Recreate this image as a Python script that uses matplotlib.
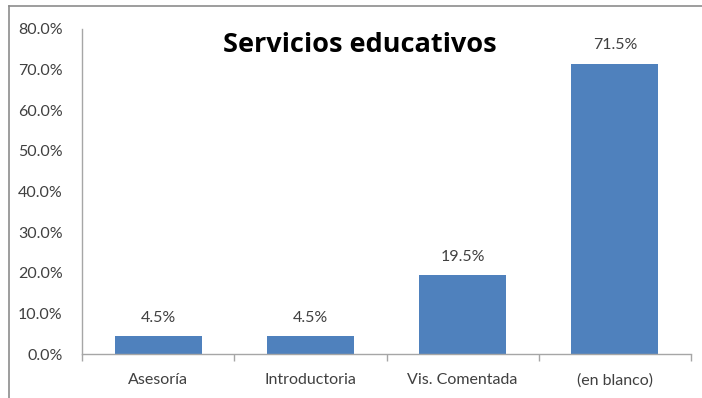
import matplotlib
matplotlib.use("Agg")
import matplotlib.pyplot as plt
from matplotlib.lines import Line2D
from matplotlib.ticker import FuncFormatter, MultipleLocator

categories = ["Asesoría", "Introductoria", "Vis. Comentada", "(en blanco)"]
values = [4.5, 4.5, 19.5, 71.5]
title = "Servicios educativos"

plt.rcParams["font.family"] = ["Lato", "DejaVu Sans"]

W, H = 702, 398
fig = plt.figure(figsize=(W / 100, H / 100), dpi=100)
fig.patch.set_facecolor("white")

# chart frame (left and top edges)
frame_kw = dict(color="#8c8c8c", linewidth=1.2, transform=fig.transFigure)
fig.add_artist(Line2D([8.5 / W, 8.5 / W], [0, 1 - 6 / H], **frame_kw))
fig.add_artist(Line2D([8.5 / W, 1], [1 - 6 / H, 1 - 6 / H], **frame_kw))

left, right, bottom, top = 82 / W, 691 / W, 1 - 354 / H, 1 - 29 / H
ax = fig.add_axes([left, bottom, right - left, top - bottom])

x = list(range(len(categories)))
bars = ax.bar(x, values, width=0.57, color="#4f81bd", zorder=2)

for xi, v in zip(x, values):
    ax.annotate(f"{v:.1f}%", (xi, v), xytext=(0, 8), textcoords="offset points",
                ha="center", va="bottom", fontsize=11.5, color="#404040")

ax.set_xlim(-0.5, len(categories) - 0.5)
ax.set_ylim(0, 80)
ax.yaxis.set_major_locator(MultipleLocator(10))
ax.yaxis.set_major_formatter(FuncFormatter(lambda v, p: f"{v:.1f}%"))
ax.set_xticks(x)
ax.set_xticklabels(categories)
ax.set_xticks([i - 0.5 for i in range(len(categories) + 1)], minor=True)

for s in ["top", "right"]:
    ax.spines[s].set_visible(False)
for s in ["left", "bottom"]:
    ax.spines[s].set_color("#a6a6a6")
    ax.spines[s].set_linewidth(1.0)

ax.tick_params(axis="y", length=0, pad=14, labelsize=11.5, labelcolor="#404040")
ax.tick_params(axis="x", which="major", length=0, pad=14, labelsize=11.5, labelcolor="#404040")
ax.tick_params(axis="x", which="minor", length=5, width=1.0, color="#a6a6a6")

fig.text(360 / W, 1 - 45 / H, title, ha="center", va="center",
         fontsize=19.5, fontweight="bold", color="black", family=["Open Sans", "DejaVu Sans"])

fig.savefig("out.png", dpi=100, facecolor="white")
